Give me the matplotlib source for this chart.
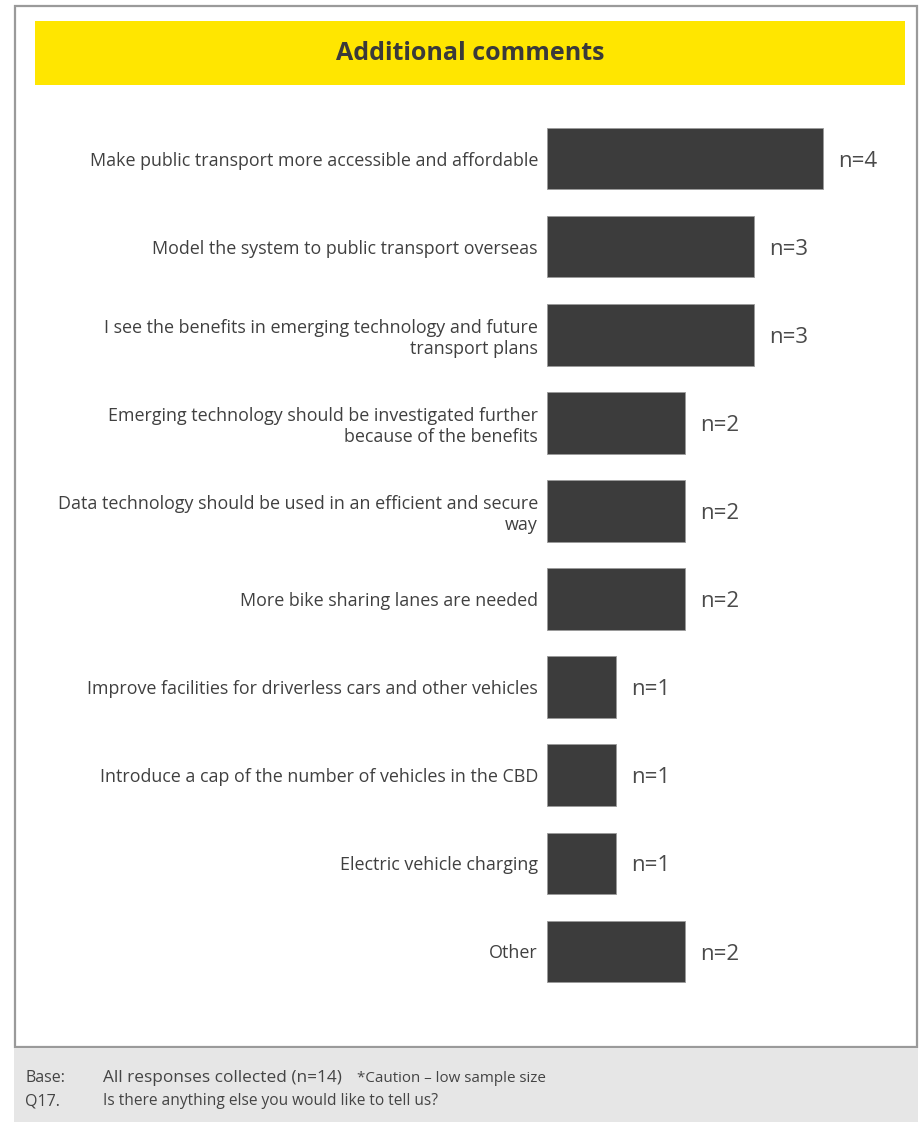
import matplotlib.pyplot as plt
from matplotlib.patches import Rectangle

plt.rcParams['font.family'] = ['Open Sans', 'DejaVu Sans']

# Data
categories = [
    'Make public transport more accessible and affordable',
    'Model the system to public transport overseas',
    'I see the benefits in emerging technology and future\ntransport plans',
    'Emerging technology should be investigated further\nbecause of the benefits',
    'Data technology should be used in an efficient and secure\nway',
    'More bike sharing lanes are needed',
    'Improve facilities for driverless cars and other vehicles',
    'Introduce a cap of the number of vehicles in the CBD',
    'Electric vehicle charging',
    'Other',
]
counts = [4, 3, 3, 2, 2, 2, 1, 1, 1, 2]

W, H = 921, 1122
fig = plt.figure(figsize=(W / 100, H / 100), dpi=100)


def fx(px):
    return px / W


def fy(py):
    return 1 - py / H


# Outer frame
fig.patches.append(Rectangle((fx(15), fy(1047)), fx(902), 1041 / H, transform=fig.transFigure,
                             facecolor='white', edgecolor='#9a9a9a', linewidth=1.6, zorder=-2))
# Yellow title banner
fig.patches.append(Rectangle((fx(35), fy(85)), fx(870), 64 / H, transform=fig.transFigure,
                             facecolor='#FFE600', edgecolor='none', zorder=-1))
fig.text(fx(470), fy(54), 'Additional comments', ha='center', va='center',
         fontsize=18, fontweight='bold', color='#3a3a3a')

# Footer
fig.patches.append(Rectangle((fx(14), 0), fx(904), 74 / H, transform=fig.transFigure,
                             facecolor='#e6e6e6', edgecolor='none', zorder=-1))
fig.text(fx(25), fy(1078), 'Base:', ha='left', va='center', fontsize=11.5, color='#444444')
fig.text(fx(103), fy(1078), 'All responses collected (n=14)', ha='left', va='center',
         fontsize=12.4, color='#444444')
fig.text(fx(357), fy(1078), '*Caution \u2013 low sample size', ha='left', va='center',
         fontsize=10.9, color='#444444')
fig.text(fx(25), fy(1101), 'Q17.', ha='left', va='center', fontsize=11.5, color='#444444')
fig.text(fx(103), fy(1101), 'Is there anything else you would like to tell us?', ha='left',
         va='center', fontsize=11.2, color='#444444')

# Bar chart
ax = fig.add_axes([fx(547), fy(995.5), fx(345), 881 / H])
ax.set_zorder(2)
ax.set_facecolor('none')
ypos = list(range(len(categories)))
ax.barh(ypos, counts, height=0.7, color='#3c3c3c', edgecolor='#9a9a9a', linewidth=0.6)
for y, v in zip(ypos, counts):
    ax.text(v + 0.22, y + 0.03, f'n={v}', ha='left', va='center', fontsize=16, color='#4a4a4a')

ax.set_xlim(0, 5)
ax.set_ylim(len(categories) - 0.5, -0.5)
ax.set_yticks(ypos)
ax.set_yticklabels(categories, fontsize=12.9, color='#404040', linespacing=1.2)
ax.tick_params(axis='y', length=0, pad=6.5)
ax.set_xticks([])
for s in ax.spines.values():
    s.set_visible(False)

fig.savefig('out.png', dpi=100)
